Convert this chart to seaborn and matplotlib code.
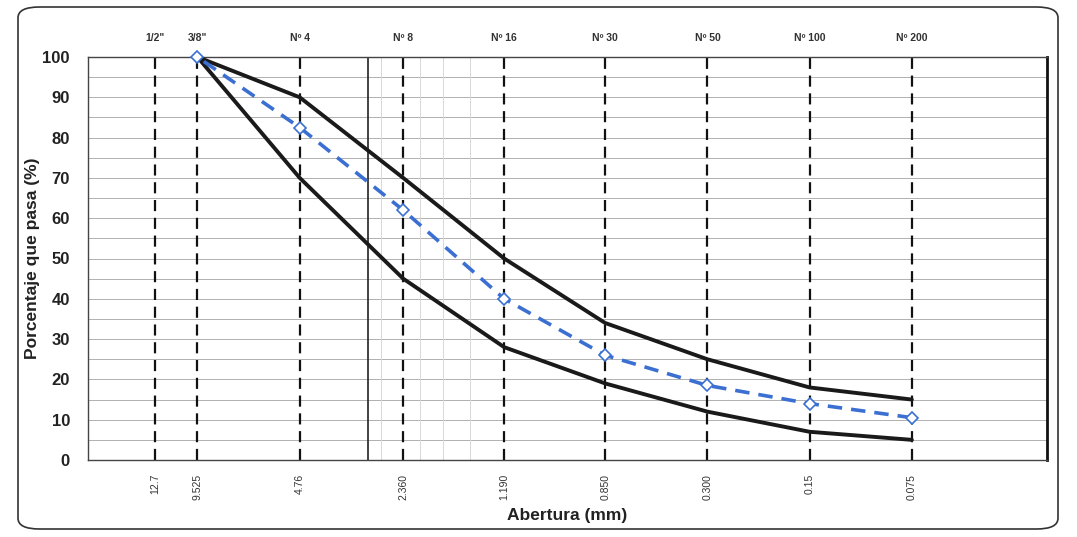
import matplotlib
matplotlib.use("Agg")
import matplotlib.pyplot as plt
from matplotlib.patches import FancyBboxPatch
import pandas as pd
import seaborn as sns

# === Data ===
sieve_names = ['1/2"', '3/8"', 'Nº 4', 'Nº 8', 'Nº 16', 'Nº 30', 'Nº 50', 'Nº 100', 'Nº 200']
sieve_mm = [12.7, 9.525, 4.76, 2.36, 1.19, 0.6, 0.3, 0.15, 0.075]
tick_labels = ['12.7', '9.525', '4.76', '2.360', '1.190', '0.850', '0.300', '0.15', '0.075']

curve_mm = [9.525, 4.76, 2.36, 1.19, 0.6, 0.3, 0.15, 0.075]
upper_limit = [100, 90, 70, 50, 34, 25, 18, 15]
lower_limit = [100, 70, 45, 28, 19, 12, 7, 5]
sample_pass = [100, 82.5, 62, 40, 26, 18.5, 14, 10.5]

df = pd.DataFrame({'mm': curve_mm, 'sup': upper_limit, 'inf': lower_limit, 'muestra': sample_pass})

# === Style ===
sns.set_style("white")
plt.rcParams['font.family'] = ['Liberation Sans', 'DejaVu Sans']

fig = plt.figure(figsize=(10.77, 5.37), dpi=100)
ax = fig.add_axes([88 / 1077, 1 - 460 / 537, (1047 - 88) / 1077, (460 - 57) / 537])

# rounded frame around the chart
frame = FancyBboxPatch((18 / 1077, 8 / 537), 1040 / 1077, 522 / 537,
                       boxstyle="round,pad=0,rounding_size=0.02",
                       transform=fig.transFigure, fill=False, ec='#333333', lw=1.2)
fig.patches.append(frame)

ax.set_xscale('log')
ax.set_xlim(20, 0.03)
ax.set_ylim(0, 100)

# horizontal grid every 5 %
for y in range(5, 100, 5):
    ax.axhline(y, color='#b0b0b0', lw=0.7, zorder=0)

# faint minor verticals and the solid one
for x in [2.75, 2.1, 1.8, 1.5]:
    ax.axvline(x, color='#d8d8d8', lw=0.7, zorder=0)
ax.axvline(3.0, color='#222222', lw=1.2, zorder=1)

# dashed sieve lines
for x in sieve_mm:
    ax.axvline(x, color='#111111', lw=1.6, ls=(0, (5, 3)), zorder=1)

# limit curves and sample
sns.lineplot(data=df, x='mm', y='sup', ax=ax, color='#1a1a1a', lw=2.8, zorder=3)
sns.lineplot(data=df, x='mm', y='inf', ax=ax, color='#1a1a1a', lw=2.8, zorder=3)
sns.lineplot(data=df, x='mm', y='muestra', ax=ax, color='#3b6fd1', lw=2.6,
             linestyle=(0, (4, 2.5)), marker='D', markersize=6,
             markerfacecolor='white', markeredgecolor='#3b6fd1', markeredgewidth=1.2,
             zorder=4, clip_on=False)

# axes ticks
ax.set_xticks(sieve_mm)
ax.set_xticklabels(tick_labels, rotation=90, fontsize=7.5, color='#333333')
ax.xaxis.set_minor_locator(plt.NullLocator())
ax.set_yticks(range(0, 101, 10))
ax.set_yticklabels([str(v) for v in range(0, 101, 10)], fontsize=12, fontweight='bold', color='#222222')
ax.tick_params(axis='x', length=0, pad=10)
ax.tick_params(axis='y', length=0, pad=13)

top = ax.secondary_xaxis('top')
top.set_xticks(sieve_mm)
top.set_xticklabels(sieve_names, fontsize=7.5, fontweight='bold', color='#333333')
top.xaxis.set_minor_locator(plt.NullLocator())
top.tick_params(length=0, pad=10)
top.spines['top'].set_visible(False)

ax.set_xlabel('Abertura (mm)', fontsize=12.5, fontweight='bold', color='#222222', labelpad=6)
ax.set_ylabel('Porcentaje que pasa (%)', fontsize=12.5, fontweight='bold', color='#222222')
ax.yaxis.set_label_coords(-0.05, 0.5)

for s in ['left', 'bottom', 'top']:
    ax.spines[s].set_color('#444444')
    ax.spines[s].set_linewidth(1.0)
ax.spines['right'].set_color('#111111')
ax.spines['right'].set_linewidth(2.0)

fig.savefig('out.png', dpi=100)
